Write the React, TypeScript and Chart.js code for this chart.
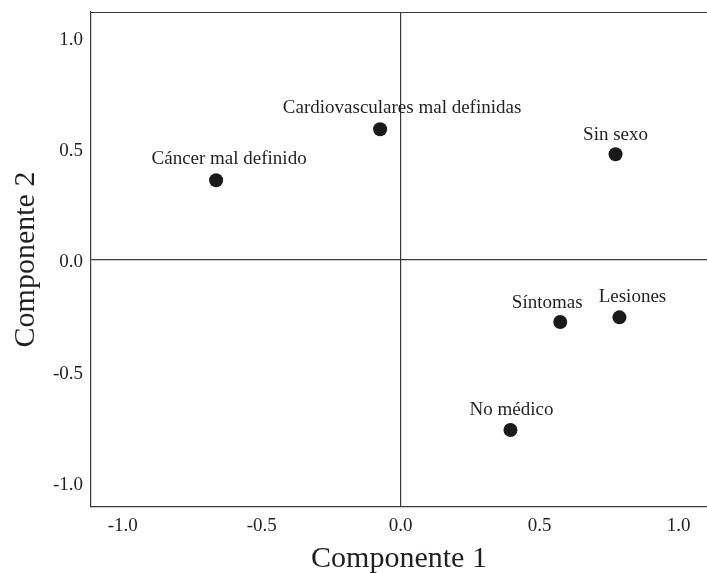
import React, { useEffect, useRef } from "react";
import { Chart, registerables } from "chart.js";

Chart.register(...registerables);

// ---- Data ----
const categories = [
  "Cáncer mal definido",
  "Cardiovasculares mal definidas",
  "Sin sexo",
  "Síntomas",
  "Lesiones",
  "No médico",
];
const componente1 = [-0.664, -0.074, 0.773, 0.574, 0.787, 0.395];
const componente2 = [0.356, 0.585, 0.473, -0.281, -0.26, -0.766];
const tickValues = [-1.0, -0.5, 0.0, 0.5, 1.0];
const xTitle = "Componente 1";
const yTitle = "Componente 2";

// ---- Styling (label placement relative to its point, px) ----
const labelOffsets: [number, number][] = [
  [13, -21],
  [22, -21],
  [0, -19],
  [-13, -19],
  [13, -20],
  [1, -19.5],
];

const FONT = "'Liberation Serif', 'DejaVu Serif', serif";
const TEXT = "#231f20";
const LINE = "#3a3a3a";

const pointLabels = {
  id: "pointLabels",
  afterDatasetsDraw(chart: any) {
    const ctx = chart.ctx;
    const meta = chart.getDatasetMeta(0);
    ctx.save();
    ctx.font = `19px ${FONT}`;
    ctx.fillStyle = TEXT;
    ctx.textAlign = "center";
    ctx.textBaseline = "middle";
    meta.data.forEach((el: any, i: number) => {
      const [dx, dy] = labelOffsets[i];
      ctx.fillText(categories[i], el.x + dx, el.y + dy);
    });
    ctx.restore();
  },
};

const topFrame = {
  id: "topFrame",
  afterDraw(chart: any) {
    const { ctx, chartArea } = chart;
    ctx.save();
    ctx.strokeStyle = LINE;
    ctx.lineWidth = 1.2;
    ctx.beginPath();
    ctx.moveTo(chartArea.left, chartArea.top + 0.5);
    ctx.lineTo(chartArea.right, chartArea.top + 0.5);
    ctx.stroke();
    ctx.restore();
  },
};

const zeroPad = (s: any) => {
  s.paddingTop = 0;
  s.paddingBottom = 0;
  s.paddingLeft = 0;
  s.paddingRight = 0;
};

export default function App() {
  const ref = useRef<HTMLCanvasElement | null>(null);

  useEffect(() => {
    if (!ref.current) return;
    const zeroColor = (c: any) =>
      c.tick && Math.abs(c.tick.value) < 1e-9 ? LINE : "rgba(0,0,0,0)";
    const chart = new Chart(ref.current, {
      type: "scatter",
      data: {
        datasets: [
          {
            label: "Componentes",
            data: componente1.map((x, i) => ({ x, y: componente2[i] })),
            backgroundColor: "#1a1a1a",
            borderColor: "#1a1a1a",
            borderWidth: 0,
            pointRadius: 7,
            pointHoverRadius: 7,
          },
        ],
      },
      options: {
        responsive: false,
        animation: false,
        devicePixelRatio: 1,
        layout: { autoPadding: false, padding: { top: 12, left: 0, right: 0, bottom: 0 } },
        plugins: {
          legend: { display: false },
          tooltip: { enabled: false },
        },
        scales: {
          x: {
            type: "linear",
            position: "bottom",
            min: -1.114,
            max: 1.102,
            afterBuildTicks: (s: any) => {
              s.ticks = tickValues.map((v) => ({ value: v }));
            },
            afterFit: (s: any) => {
              s.height = 66;
              zeroPad(s);
            },
            ticks: {
              callback: (v: any) => Number(v).toFixed(1),
              font: { family: FONT, size: 19 },
              color: TEXT,
              padding: 8,
              maxRotation: 0,
              autoSkip: false,
            },
            grid: { drawTicks: false, color: zeroColor, lineWidth: 1.2 },
            border: { display: true, color: LINE, width: 1.2 },
            title: {
              display: true,
              text: xTitle,
              color: TEXT,
              font: { family: FONT, size: 30, lineHeight: 0.9 },
              padding: { top: 0, bottom: 0 },
            },
          },
          y: {
            type: "linear",
            position: "left",
            min: -1.112,
            max: 1.112,
            afterBuildTicks: (s: any) => {
              s.ticks = tickValues.map((v) => ({ value: v }));
            },
            afterFit: (s: any) => {
              s.width = 91;
              zeroPad(s);
            },
            ticks: {
              callback: (v: any) => Number(v).toFixed(1),
              font: { family: FONT, size: 19 },
              color: TEXT,
              padding: 8,
              labelOffset: 3,
              autoSkip: false,
            },
            grid: { drawTicks: false, color: zeroColor, lineWidth: 1.2 },
            border: { display: true, color: LINE, width: 1.2 },
            title: {
              display: true,
              text: yTitle,
              color: TEXT,
              font: { family: FONT, size: 30, lineHeight: 0.9 },
              padding: { top: 13, bottom: 0 },
            },
          },
        },
      },
      plugins: [pointLabels, topFrame],
    });
    return () => chart.destroy();
  }, []);

  return (
    <div style={{ position: "fixed", left: 0, top: 0, width: 707, height: 573, background: "#fff" }}>
      <canvas ref={ref} width={707} height={573} style={{ width: 707, height: 573, display: "block" }} />
    </div>
  );
}
